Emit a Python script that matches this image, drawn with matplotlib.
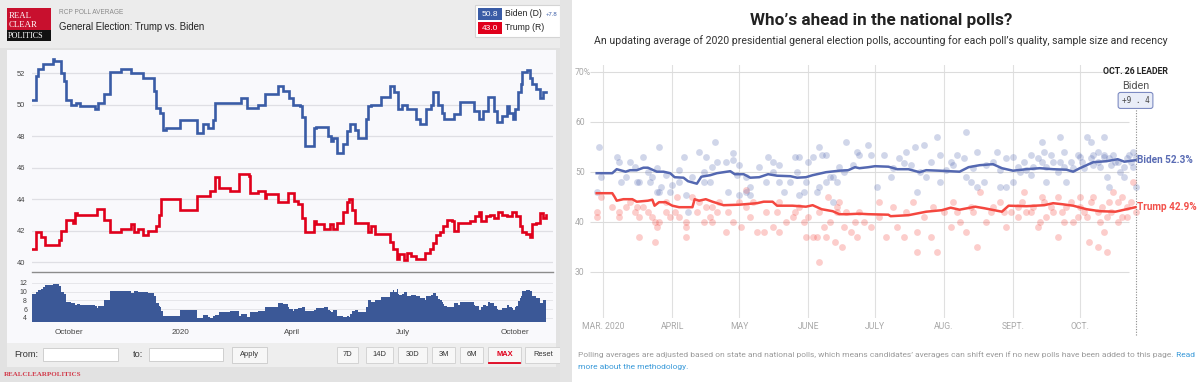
import pandas as pd
import matplotlib
matplotlib.use('Agg')
import matplotlib.pyplot as plt
from matplotlib.patches import Rectangle

W, H = 1200, 382

# ---------------- RCP poll average (left screenshot) ----------------
rcp_biden_dates = ['2019-09-01', '2019-09-04', '2019-09-06', '2019-09-10', '2019-09-18', '2019-09-19',
                   '2019-09-25', '2019-09-27', '2019-09-29', '2019-10-03', '2019-10-07', '2019-10-10',
                   '2019-10-23', '2019-10-25', '2019-10-30', '2019-11-04', '2019-11-13', '2019-11-21',
                   '2019-12-01', '2019-12-10', '2019-12-12', '2019-12-15', '2019-12-17', '2019-12-20',
                   '2019-12-31', '2020-01-14', '2020-01-19', '2020-01-23', '2020-01-27', '2020-01-29',
                   '2020-02-19', '2020-02-24', '2020-03-04', '2020-03-10', '2020-03-21', '2020-03-25',
                   '2020-03-30', '2020-04-02', '2020-04-08', '2020-04-09', '2020-04-12', '2020-04-19',
                   '2020-04-21', '2020-05-01', '2020-05-03', '2020-05-05', '2020-05-08', '2020-05-13',
                   '2020-05-16', '2020-05-19', '2020-05-23', '2020-05-25', '2020-06-01', '2020-06-02',
                   '2020-06-05', '2020-06-13', '2020-06-20', '2020-06-24', '2020-06-27', '2020-06-30',
                   '2020-07-04', '2020-07-12', '2020-07-15', '2020-07-20', '2020-07-24', '2020-07-26',
                   '2020-07-30', '2020-08-02', '2020-08-04', '2020-08-12', '2020-08-17', '2020-08-28',
                   '2020-09-01', '2020-09-05', '2020-09-09', '2020-09-14', '2020-09-16', '2020-09-20',
                   '2020-09-24', '2020-09-26', '2020-09-29', '2020-10-01', '2020-10-03', '2020-10-06',
                   '2020-10-07', '2020-10-11', '2020-10-13', '2020-10-15', '2020-10-18', '2020-10-21',
                   '2020-10-24', '2020-10-26']
rcp_biden = [50.3, 51.8, 52.3, 52.6, 52.9, 52.8,
             52.0, 51.5, 50.3, 50.0, 50.1, 49.9,
             49.7, 50.1, 50.7, 52.1, 52.3, 52.0,
             51.7, 50.9, 49.8, 49.5, 48.4, 48.5,
             49.0, 48.2, 48.8, 48.5, 49.0, 50.1,
             50.4, 49.8, 50.0, 50.7, 51.2, 50.9,
             50.4, 50.0, 49.9, 49.2, 47.4, 48.5,
             48.6, 48.0, 47.7, 47.9, 46.9, 47.5,
             48.3, 48.8, 48.4, 47.9, 49.1, 49.9,
             50.0, 50.5, 51.2, 50.8, 49.7, 50.0,
             49.7, 49.1, 48.8, 49.7, 50.0, 50.8,
             50.0, 49.5, 49.1, 49.4, 50.2, 49.6,
             49.1, 49.6, 50.5, 49.6, 48.9, 49.3,
             49.9, 49.5, 49.1, 49.7, 50.8, 51.3,
             52.1, 52.2, 51.7, 51.3, 51.0, 50.4,
             50.8, 50.8]

rcp_trump_dates = ['2019-09-01', '2019-09-04', '2019-09-08', '2019-09-12', '2019-09-23', '2019-09-25',
                   '2019-09-29', '2019-10-05', '2019-10-06', '2019-10-08', '2019-10-24', '2019-10-30',
                   '2019-11-04', '2019-11-13', '2019-11-21', '2019-11-24', '2019-11-27', '2019-12-01',
                   '2019-12-05', '2019-12-12', '2019-12-14', '2019-12-16', '2019-12-31', '2020-01-14',
                   '2020-01-25', '2020-01-29', '2020-02-01', '2020-02-10', '2020-02-18', '2020-02-26',
                   '2020-02-27', '2020-03-04', '2020-03-10', '2020-03-11', '2020-03-21', '2020-03-29',
                   '2020-04-03', '2020-04-06', '2020-04-09', '2020-04-12', '2020-04-19', '2020-04-21',
                   '2020-04-27', '2020-05-02', '2020-05-05', '2020-05-08', '2020-05-13', '2020-05-16',
                   '2020-05-18', '2020-05-20', '2020-05-23', '2020-06-02', '2020-06-05', '2020-06-08',
                   '2020-06-20', '2020-06-23', '2020-06-26', '2020-06-28', '2020-07-02', '2020-07-04',
                   '2020-07-08', '2020-07-12', '2020-07-19', '2020-07-23', '2020-07-26', '2020-07-28',
                   '2020-07-31', '2020-08-03', '2020-08-06', '2020-08-10', '2020-08-12', '2020-08-15',
                   '2020-08-25', '2020-08-29', '2020-09-01', '2020-09-03', '2020-09-07', '2020-09-10',
                   '2020-09-14', '2020-09-17', '2020-09-20', '2020-09-24', '2020-09-28', '2020-10-02',
                   '2020-10-05', '2020-10-07', '2020-10-10', '2020-10-13', '2020-10-15', '2020-10-18',
                   '2020-10-21', '2020-10-24', '2020-10-26']
rcp_trump = [40.8, 41.9, 41.6, 41.1, 41.4, 42.0,
             42.7, 42.5, 43.1, 43.0, 43.4, 42.7,
             41.9, 42.1, 42.4, 41.9, 42.1, 41.7,
             42.0, 42.3, 43.0, 44.0, 43.3, 44.2,
             44.5, 45.4, 44.7, 44.5, 45.6, 45.5,
             44.4, 44.5, 44.1, 44.3, 43.8, 44.4,
             43.9, 43.7, 42.8, 41.9, 42.6, 42.4,
             42.1, 42.4, 42.1, 42.5, 43.2, 43.8,
             44.0, 43.3, 42.5, 41.9, 42.3, 41.8,
             41.3, 40.8, 40.2, 40.5, 40.1, 40.6,
             40.4, 40.2, 40.6, 40.8, 41.2, 41.7,
             41.9, 42.3, 42.7, 42.6, 42.0, 42.5,
             42.6, 42.9, 43.2, 42.6, 42.9, 43.0,
             42.8, 43.2, 43.0, 42.9, 43.2, 42.9,
             42.3, 41.9, 41.8, 41.6, 42.4, 42.5,
             43.1, 42.8, 43.0]

rcp_month_ticks = ['2019-10-01', '2020-01-01', '2020-04-01', '2020-07-01', '2020-10-01']
rcp_month_labels = ['October', '2020', 'April', 'July', 'October']
rcp_yticks = [40, 42, 44, 46, 48, 50, 52]
spread_yticks = [4, 6, 8, 10, 12]
range_buttons = ['7D', '14D', '30D', '3M', '6M', 'MAX', 'Reset']

# ---------------- FiveThirtyEight average (right screenshot) ----------------
fte_biden_dates = ['2020-02-27', '2020-03-05', '2020-03-07', '2020-03-11', '2020-03-13', '2020-03-16',
                   '2020-03-19', '2020-03-21', '2020-03-25', '2020-03-28', '2020-03-31', '2020-04-02',
                   '2020-04-06', '2020-04-08', '2020-04-12', '2020-04-14', '2020-04-18', '2020-04-21',
                   '2020-04-27', '2020-04-29', '2020-05-03', '2020-05-06', '2020-05-10', '2020-05-14',
                   '2020-05-18', '2020-05-24', '2020-05-27', '2020-05-31', '2020-06-03', '2020-06-09',
                   '2020-06-15', '2020-06-19', '2020-06-22', '2020-06-24', '2020-06-28', '2020-07-01',
                   '2020-07-07', '2020-07-11', '2020-07-16', '2020-07-21', '2020-07-24', '2020-07-30',
                   '2020-08-08', '2020-08-12', '2020-08-17', '2020-08-23', '2020-08-27', '2020-09-01',
                   '2020-09-07', '2020-09-13', '2020-09-19', '2020-09-25', '2020-09-28', '2020-10-01',
                   '2020-10-04', '2020-10-07', '2020-10-13', '2020-10-18', '2020-10-21', '2020-10-26']
fte_biden = [49.7, 49.7, 50.5, 50.0, 50.3, 50.3,
             50.8, 50.8, 50.0, 50.0, 49.7, 48.9,
             48.8, 48.1, 47.6, 49.0, 49.3, 49.7,
             50.1, 49.5, 49.5, 48.8, 48.9, 49.5,
             49.2, 49.1, 48.8, 48.9, 49.3, 49.9,
             50.2, 50.3, 50.9, 50.7, 50.9, 51.1,
             51.0, 50.5, 50.5, 49.9, 50.3, 50.2,
             50.0, 50.9, 51.3, 51.5, 50.7, 50.2,
             50.5, 50.7, 50.5, 50.4, 50.0, 50.7,
             51.3, 51.9, 52.1, 52.5, 52.0, 52.3]

fte_trump_dates = ['2020-02-27', '2020-03-05', '2020-03-06', '2020-03-07', '2020-03-10', '2020-03-14',
                   '2020-03-16', '2020-03-21', '2020-03-23', '2020-03-24', '2020-03-26', '2020-03-29',
                   '2020-04-01', '2020-04-04', '2020-04-10', '2020-04-11', '2020-04-13', '2020-04-16',
                   '2020-04-19', '2020-04-24', '2020-05-01', '2020-05-09', '2020-05-12', '2020-05-16',
                   '2020-05-18', '2020-05-25', '2020-05-31', '2020-06-03', '2020-06-07', '2020-06-12',
                   '2020-06-15', '2020-06-19', '2020-06-24', '2020-06-28', '2020-07-07', '2020-07-08',
                   '2020-07-16', '2020-07-24', '2020-07-31', '2020-08-04', '2020-08-08', '2020-08-15',
                   '2020-08-19', '2020-08-27', '2020-08-30', '2020-09-07', '2020-09-15', '2020-09-19',
                   '2020-09-23', '2020-09-28', '2020-10-04', '2020-10-10', '2020-10-17', '2020-10-22',
                   '2020-10-26']
fte_trump = [45.7, 45.7, 45.0, 44.2, 44.5, 44.5,
             44.0, 44.2, 44.4, 43.2, 43.9, 43.9,
             43.2, 42.9, 42.9, 44.5, 44.2, 44.5,
             44.0, 43.3, 43.4, 43.7, 44.0, 44.0,
             43.2, 43.2, 43.0, 43.3, 42.5, 42.1,
             41.5, 41.5, 41.6, 41.5, 41.4, 41.1,
             41.3, 42.0, 42.3, 42.8, 42.4, 43.0,
             42.7, 42.0, 43.2, 43.1, 43.3, 43.7,
             43.5, 43.2, 42.5, 42.1, 42.0, 42.5,
             42.9]

# individual polls: day number counted from March 1, 2020
poll_biden_day = [-2, -3, -1, 6, 7, 8, 12, 14, 15, 16, 18, 21, 22, 24, 24, 25, 25, 26, 30, 31,
                  34, 34, 36, 37, 38, 43, 45, 45, 46, 48, 50, 51, 55, 56, 58, 58, 60, 61, 61, 64,
                  66, 66, 70, 73, 74, 76, 79, 79, 81, 84, 86, 88, 87, 88, 90, 92, 94, 96, 97, 97,
                  98, 100, 100, 102, 103, 105, 106, 108, 109, 112, 114,
                  10, 20, 28, 40, 49, 64, 76, 91, 103,
                  119, 115, 120, 126, 123, 129, 135, 136, 140, 141, 144, 145, 150, 151, 151, 156,
                  159, 163, 163, 165, 168, 168, 171, 175, 177, 178, 181, 184, 184, 189, 192, 193,
                  197, 198, 199, 202, 205, 207, 208, 210, 214, 217, 219, 220, 222, 225, 225, 226,
                  227, 230, 232, 234, 236, 238, 238, 239,
                  186, 187, 190, 192, 195, 197, 199, 201, 204, 205, 207, 211, 213, 215, 216, 219,
                  220, 222, 223, 225, 227, 228, 229, 231, 234, 235, 237, 239,
                  130, 133, 138, 142, 147, 154, 157, 162, 166, 172, 178, 181]
poll_biden = [55, 46, 49, 53, 52, 48, 52, 51, 48, 48, 53, 48, 49, 50.7, 46, 55, 46, 47, 46, 47.3,
              50.3, 48, 53, 45.3, 42, 54, 50, 48, 53, 48, 56, 52, 52, 46, 53.7, 52.3, 49.3, 45.3, 51.3, 46,
              47, 45.3, 51, 48, 53, 52, 51.3, 48, 46, 48, 53, 53, 50, 45.3, 46, 52, 53, 46, 55, 47,
              53.3, 53.3, 48, 49, 44, 48, 51, 50, 56, 51.3, 54,
              49, 50, 49.3, 49, 51, 49, 50, 48, 49,
              55.3, 53.3, 53.3, 53.3, 47, 49, 51.7, 54, 55, 46, 55.3, 49, 57, 53.3, 48, 52,
              53.3, 58, 49, 48, 54, 47, 48, 52, 54, 47, 47, 53, 48, 52, 53.3, 51,
              56, 54, 48, 52, 57, 54, 48, 52, 53, 57, 56, 51.3, 54, 57, 53, 49,
              47, 52, 50, 49, 53.3, 54, 51, 47,
              51, 50, 50.3, 49.3, 52.7, 52, 51, 53.3, 50, 52, 51, 50.7, 53.3, 52, 50.7, 52.7,
              53.3, 52, 51, 53.3, 52.7, 51.3, 53.3, 52, 51, 52.7, 52, 53,
              50.7, 52.7, 51.3, 50, 52, 50.3, 51.3, 52.7, 50.7, 51.3, 50.3, 52.7]

poll_trump_day = [-3, -3, -1, 7, 7, 10, 12, 14, 15, 16, 16, 20, 22, 23, 23, 24, 25, 28, 30, 32,
                  33, 34, 37, 37, 37, 40, 42, 43, 45, 46, 48, 49, 51, 52, 55, 56, 58, 61, 62, 64,
                  66, 67, 69, 72, 73, 76, 78, 79, 82, 85, 86, 90, 91, 92, 94, 96, 97, 97, 99, 100,
                  101, 102, 104, 105, 106, 107, 108, 109, 111, 113, 114,
                  4, 18, 28, 49, 64, 79, 88, 105,
                  115, 117, 120, 124, 127, 130, 132, 135, 139, 141, 141, 144, 147, 150, 153, 156,
                  157, 160, 163, 166, 168, 169, 172, 175, 178, 181, 183, 186, 189, 192, 195, 197,
                  199, 202, 204, 207, 210, 211, 214, 217, 218, 220, 222, 223, 225, 226, 227, 229,
                  231, 233, 235, 238, 239,
                  186, 188, 190, 193, 196, 198, 201, 204, 206, 208, 213, 214, 216, 219, 222, 224,
                  226, 228, 231, 233, 235, 237, 124, 136, 148, 159, 165, 174, 180]
poll_trump = [42, 41, 45, 41, 42, 43, 44, 42, 43, 37, 41, 42, 41, 36, 40, 39, 40, 42, 41, 42,
              45, 41, 40, 37, 39, 45, 42, 44, 40, 43, 41, 40, 42, 44, 38, 42, 40, 44, 39, 46.3,
              41, 44, 38, 38, 42, 39, 42, 38, 40, 41, 42, 40, 37, 41, 37, 37, 32, 42, 39, 37,
              45, 40, 36, 42, 44, 35, 39, 42, 38, 40, 37,
              43, 43, 44, 43, 43, 44, 43, 43,
              42, 40, 39, 41, 37, 43, 39, 37, 44, 38, 34, 41, 37, 34, 42, 39,
              44, 40, 38, 42, 35, 46, 40, 43, 44, 39, 42, 41, 46, 42, 39, 45,
              41, 42, 37, 40, 44, 40, 43, 41, 36, 45, 35, 40, 38, 34, 44, 46,
              40, 41, 43, 48, 42,
              43, 44, 42, 43, 40, 44, 43, 45, 42, 43, 41, 45, 42, 44, 42, 43,
              41, 42, 44, 45, 41, 44, 44, 42, 43, 42, 43, 42, 42]

fte_month_ticks = ['2020-03-01', '2020-04-01', '2020-05-01', '2020-06-01',
                   '2020-07-01', '2020-08-01', '2020-09-01', '2020-10-01']
fte_month_labels = ['MAR. 2020', 'APRIL', 'MAY', 'JUNE', 'JULY', 'AUG.', 'SEPT.', 'OCT.']
fte_yticks = [30, 40, 50, 60, 70]

# ---------------- styling ----------------
plt.rcParams['font.family'] = ['Liberation Sans', 'DejaVu Sans']
NARROW = ['Liberation Sans Narrow', 'Roboto', 'DejaVu Sans']
SERIF = ['Liberation Serif', 'DejaVu Serif']
RCP_BLUE, RCP_RED = '#3a5ca6', '#e0001b'
FTE_BLUE, FTE_RED = '#5468b1', '#f4473f'

fig = plt.figure(figsize=(W / 100, H / 100), dpi=100)
bg = fig.add_axes([0, 0, 1, 1], zorder=0)
bg.set_xlim(0, W)
bg.set_ylim(H, 0)
bg.axis('off')


def box(x0, y0, x1, y1, **kw):
    bg.add_patch(Rectangle((x0, y0), x1 - x0, y1 - y0, **kw))


def panel(x0, y0, x1, y1):
    ax = fig.add_axes([x0 / W, 1 - y1 / H, (x1 - x0) / W, (y1 - y0) / H], zorder=2)
    ax.patch.set_alpha(0)
    return ax


# ======== left: RealClearPolitics ========
box(0, 0, 560, 382, fc='#e2e2e2', lw=0)
box(0, 0, 560, 48, fc='#ececec', lw=0)
box(7, 50, 556, 343, fc='#f9f9fc', lw=0)
box(7, 343, 556, 367, fc='#eeeeee', lw=0)

# logo
box(7, 8, 51, 30, fc='#c8102e', lw=0)
box(7, 30, 51, 41, fc='#111111', lw=0)
for txt, y in [('REAL', 16), ('CLEAR', 25)]:
    bg.text(8.5, y, txt, color='white', family=SERIF, fontsize=6.3, va='center')
bg.text(8, 35.8, 'POLITICS', color='white', family=SERIF, fontsize=5.9, va='center')
bg.text(59, 12.5, 'RCP POLL AVERAGE', color='#8a8a8a', fontsize=4.7, va='center')
bg.text(59, 27, 'General Election: Trump vs. Biden', color='#222222', fontsize=6.9, va='center')

# legend box
b_last, t_last = rcp_biden[-1], rcp_trump[-1]
box(475, 5, 560, 37, fc='white', ec='#d4d4d4', lw=0.8)
for (name, val, col, y) in [('Biden (D)', b_last, RCP_BLUE, 14), ('Trump (R)', t_last, RCP_RED, 28)]:
    box(478, y - 6, 502, y + 6, fc=col, lw=0)
    bg.text(490, y, f'{val:.1f}', color='white', fontsize=6.0, ha='center', va='center')
    bg.text(505, y, name, color='#222222', fontsize=6.2, va='center')
bg.text(546, 14.5, f'+{b_last - t_last:.1f}', color=RCP_BLUE, fontsize=4.3, va='center')

# main average chart
bd = pd.to_datetime(rcp_biden_dates)
td = pd.to_datetime(rcp_trump_dates)
ax = panel(32, 55, 553, 271.5)
ax.plot(bd, rcp_biden, drawstyle='steps-post', color=RCP_BLUE, lw=1.9, solid_joinstyle='miter')
ax.plot(td, rcp_trump, drawstyle='steps-post', color=RCP_RED, lw=1.9, solid_joinstyle='miter')
ax.set_xlim(pd.Timestamp('2019-09-01'), pd.Timestamp('2020-11-01'))
ax.set_ylim(39.4, 53.16)
ax.set_yticks(rcp_yticks)
ax.grid(axis='y', color='#dfdfe4', lw=0.9)
ax.set_axisbelow(True)
ax.set_xticks([])
ax.tick_params(axis='y', length=0, pad=5, labelsize=5.4, labelcolor='#444444')
for s in ['top', 'left', 'right']:
    ax.spines[s].set_visible(False)
ax.spines['bottom'].set_color('#8c8c8c')
ax.spines['bottom'].set_linewidth(1.0)

# spread area (Biden minus Trump)
b_ser = pd.Series(rcp_biden, index=bd)
t_ser = pd.Series(rcp_trump, index=td)
idx = b_ser.index.union(t_ser.index)
spread = b_ser.reindex(idx).ffill() - t_ser.reindex(idx).ffill()
ax2 = panel(32, 277, 553, 322.5)
ax2.set_ylim(2.95, 13.35)
ax2.fill_between(spread.index, spread.values, 2.95, step='post', color='#3b5897', lw=0)
ax2.set_xlim(ax.get_xlim())
ax2.set_yticks(spread_yticks)
ax2.grid(axis='y', color='#e6e6ea', lw=0.7)
ax2.set_axisbelow(True)
ax2.set_xticks(pd.to_datetime(rcp_month_ticks))
ax2.set_xticklabels(rcp_month_labels)
ax2.tick_params(axis='y', length=0, pad=3.6, labelsize=5.0, labelcolor='#444444')
ax2.tick_params(axis='x', length=0, pad=4.5, labelsize=5.8, labelcolor='#444444')
for s in ax2.spines.values():
    s.set_visible(False)

# range controls
bg.text(14, 354.5, 'From:', fontsize=6.6, color='#333333', va='center')
box(43, 348, 118, 361, fc='white', ec='#cfcfcf', lw=0.7)
bg.text(133, 354.5, 'to:', fontsize=6.6, color='#333333', va='center')
box(149, 348, 223, 361, fc='white', ec='#cfcfcf', lw=0.7)
box(232, 347, 267, 363, fc='#f7f7f7', ec='#cfcfcf', lw=0.7)
bg.text(249.5, 355, 'Apply', fontsize=5.4, color='#333333', ha='center', va='center')
btn_edges = [(337, 358), (366, 393), (398, 427), (432, 455), (460, 483), (488, 521), (525, 562)]
for lab, (x0, x1) in zip(range_buttons, btn_edges):
    box(x0, 347, x1, 363, fc='#f7f7f7', ec='#d4d4d4', lw=0.7)
    hot = lab == 'MAX'
    bg.text((x0 + x1) / 2, 355, lab, fontsize=5.4, ha='center', va='center',
            color=RCP_RED if hot else '#333333', fontweight='bold' if hot else 'normal')
    if hot:
        bg.plot([x0 + 1, x1 - 1], [362.5, 362.5], color=RCP_RED, lw=1.3)
bg.text(4, 374.5, 'REALCLEARPOLITICS', family=SERIF, fontweight='bold', fontsize=5.0,
        color='#d23a4a', va='center')

# ======== right: FiveThirtyEight ========
box(560, 0, 572, 382, fc='#e4e4e4', lw=0)
box(572, 0, 1200, 382, fc='white', lw=0)
bg.text(881, 20.5, 'Who’s ahead in the national polls?', family=NARROW, fontweight='bold',
        fontsize=12.3, color='#222222', ha='center', va='center')
bg.text(881, 40.5, 'An updating average of 2020 presidential general election polls, accounting '
        'for each poll’s quality, sample size and recency', family=NARROW, fontsize=7.6,
        color='#333333', ha='center', va='center')

ax3 = panel(590, 65, 1160, 318)
x_lo, x_hi = pd.Timestamp('2020-02-24'), pd.Timestamp('2020-11-06')
ax3.set_xlim(x_lo, x_hi)
ax3.set_ylim(20.74, 71.34)
mt = pd.to_datetime(fte_month_ticks)
for m in mt:
    ax3.axvline(m, color='#e0e0e0', lw=0.8, zorder=0)
ax3.hlines(fte_yticks, x_lo, pd.Timestamp('2020-10-23'), color='#dcdcdc', lw=0.8, zorder=0)

start = pd.Timestamp('2020-03-01')
pb = start + pd.to_timedelta(poll_biden_day, unit='D')
pt = start + pd.to_timedelta(poll_trump_day, unit='D')
ax3.scatter(pt, poll_trump, s=24, color=FTE_RED, alpha=0.27, lw=0, zorder=1)
ax3.scatter(pb, poll_biden, s=24, color=FTE_BLUE, alpha=0.27, lw=0, zorder=1)

fb = pd.to_datetime(fte_biden_dates)
ft = pd.to_datetime(fte_trump_dates)
ax3.plot(fb, fte_biden, color=FTE_BLUE, lw=1.8, zorder=3)
ax3.plot(ft, fte_trump, color=FTE_RED, lw=1.8, zorder=3)

last = fb[-1]
ax3.axvline(last, ymin=(318 - 335) / 253, ymax=(318 - 107) / 253, color='#8a8a8a',
            lw=0.8, ls=(0, (1, 1.4)), clip_on=False, zorder=2)
ax3.annotate(f'Biden {fte_biden[-1]:.1f}%', xy=(last, fte_biden[-1]), xytext=(1.2, 0),
             textcoords='offset points', va='center', ha='left', family=NARROW,
             fontweight='bold', fontsize=7.2, color='#5a6cb4', annotation_clip=False)
ax3.annotate(f'Trump {fte_trump[-1]:.1f}%', xy=(last, fte_trump[-1]), xytext=(1.2, 0),
             textcoords='offset points', va='center', ha='left', family=NARROW,
             fontweight='bold', fontsize=7.2, color='#f2504a', annotation_clip=False)

lead = fte_biden[-1] - fte_trump[-1]
ax3.annotate(f'{last.strftime("%b").upper()}. {last.day} LEADER', xy=(last, 70), ha='center',
             va='center', family=NARROW, fontweight='bold', fontsize=6.3, color='#222222',
             annotation_clip=False)
ax3.annotate('Biden', xy=(last, 70), xytext=(0, -10.1), textcoords='offset points', ha='center',
             va='center', family=NARROW, fontsize=7.8, color='#555555', annotation_clip=False)
ax3.annotate('+' + ' '.join(f'{lead:.1f}'), xy=(last, 70), xytext=(0, -20.7),
             textcoords='offset points', ha='center', va='center', family='DejaVu Sans Mono',
             fontsize=5.6, color='#444444', annotation_clip=False,
             bbox=dict(boxstyle='round,pad=0.45,rounding_size=0.3', fc='#e9edf8', ec='#7d8bc2', lw=0.8))

ax3.set_yticks(fte_yticks)
ax3.set_yticklabels([str(v) for v in fte_yticks[:-1]] + [f'{fte_yticks[-1]}%'])
for lbl in ax3.get_yticklabels():
    lbl.set_horizontalalignment('left')
    lbl.set_family(NARROW)
ax3.tick_params(axis='y', length=0, pad=10.8, labelsize=6.2, labelcolor='#a8a8a8')
ax3.set_xticks(mt)
ax3.set_xticklabels(fte_month_labels, family=NARROW)
ax3.tick_params(axis='x', length=0, pad=3.0, labelsize=6.2, labelcolor='#a8a8a8')
for s in ax3.spines.values():
    s.set_visible(False)

note = bg.text(578, 355, 'Polling averages are adjusted based on state and national polls, which means '
               'candidates’ averages can shift even if no new polls have been added to this page.',
               family=NARROW, fontsize=6.0, color='#9a9a9a', va='center')
bg.annotate(' Read', xy=(1, 0.5), xycoords=note, va='center', ha='left', family=NARROW,
            fontsize=6.0, color='#3a9ad9')
bg.text(578, 366.5, 'more about the methodology.', family=NARROW, fontsize=6.0,
        color='#3a9ad9', va='center')

fig.savefig('out.png', dpi=100)
